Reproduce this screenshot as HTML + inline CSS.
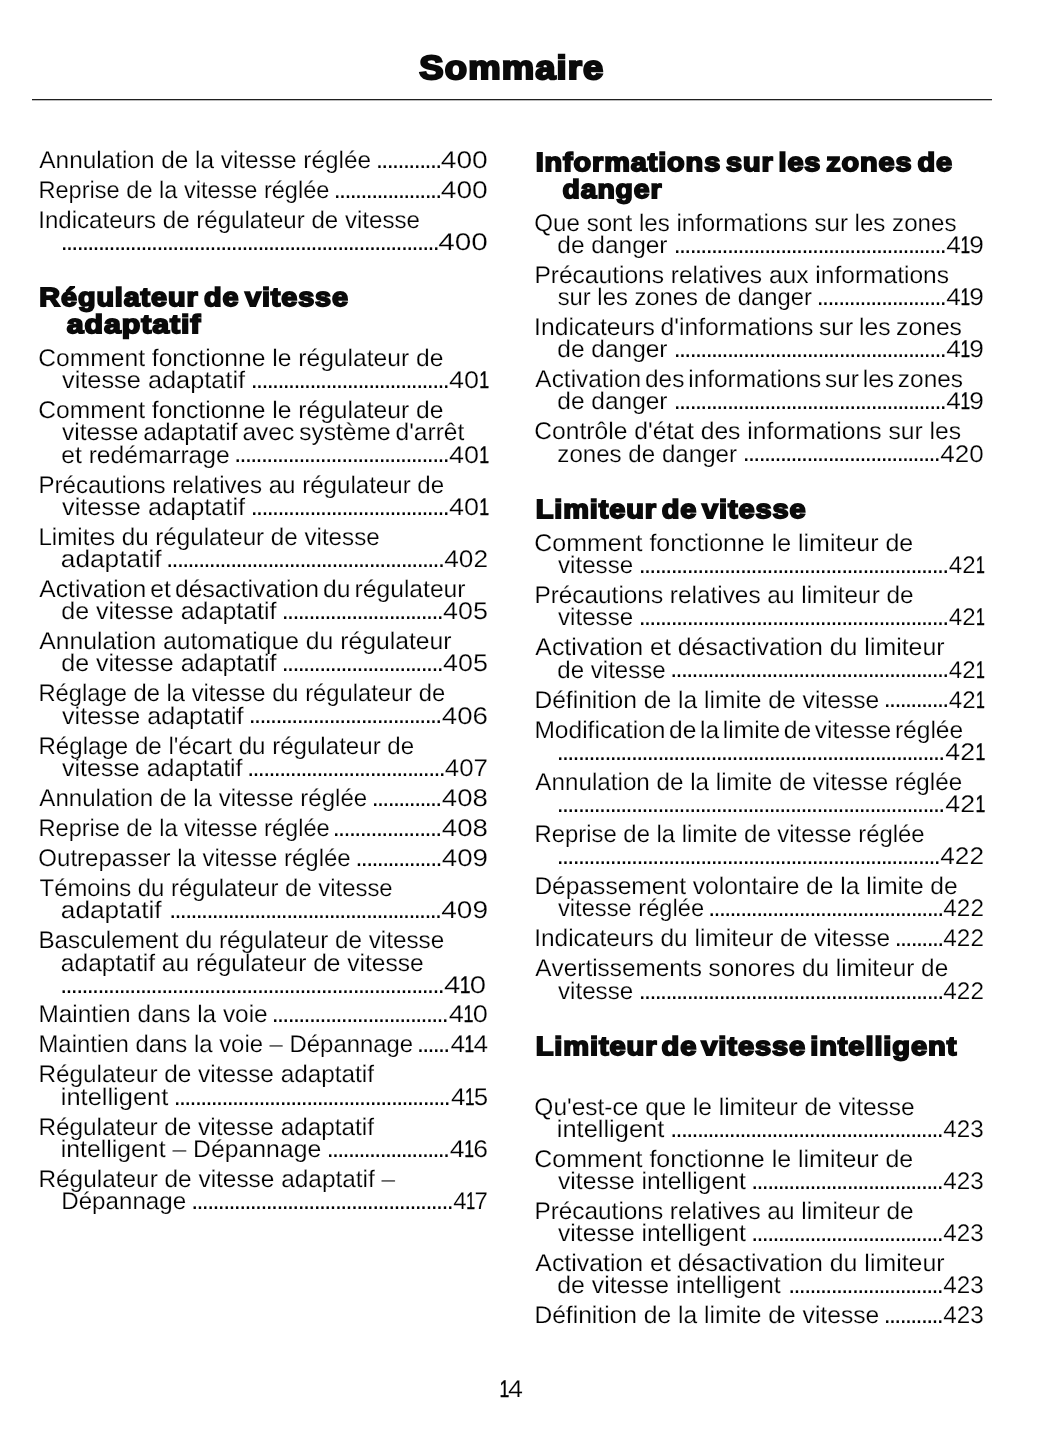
<!DOCTYPE html>
<html lang="fr">
<head>
<meta charset="utf-8">
<title>Sommaire</title>
<style>
html,body{margin:0;padding:0;background:#fff;}
body{width:1055px;height:1448px;position:relative;overflow:hidden;color:#000;font-family:"Liberation Sans",sans-serif;font-kerning:none;text-rendering:geometricPrecision;}
.page{position:absolute;left:0;top:0;width:1055px;height:1448px;overflow:hidden;background:#fff;}
h1,h2,p{margin:0;padding:0;font:inherit;}
span{position:absolute;white-space:pre;transform-origin:0 0;display:block;}
.l,.n,.pg{font-size:24px;line-height:24px;-webkit-text-stroke:0.2px #fff;}
.d{font-size:25px;line-height:25px;}
.h{font-size:26.2px;line-height:26.2px;font-weight:bold;color:#0a0a0a;-webkit-text-stroke:1.8px #0a0a0a;paint-order:stroke fill;letter-spacing:0.8px;word-spacing:-3px;}
.ti{font-size:33.4px;line-height:33.4px;font-weight:bold;color:#0a0a0a;-webkit-text-stroke:2.2px #0a0a0a;paint-order:stroke fill;letter-spacing:1px;}
i{display:inline-block;font-style:normal;width:7.85px;margin-left:-0.05px;transform:scaleX(0.66);transform-origin:0 0;-webkit-text-stroke:0.4px #000;}
.rule{position:absolute;left:31.7px;top:99px;width:960.3px;height:2px;background:linear-gradient(#1f1f1f 0 50%, rgba(31,31,31,.3) 50% 100%);}
</style>
</head>
<body>
<div class="page">
<header><h1><span class="ti" style="left:419px;top:52px;transform:translateX(0.35px) scaleX(1.0922)">Sommaire</span></h1><div class="rule"></div></header>
<section class="left">
<p><span class="l" style="left:39px;top:149px;transform:translateX(0.35px) scaleX(1.0145)">Annulation de la vitesse réglée</span><span class="d" style="letter-spacing:-1.545px;left:375px;top:148px;transform:translateX(0.92px)">............</span><span class="n" style="left:440px;top:149px;transform:translateX(0.73px) scaleX(1.1757)">400</span></p>
<p><span class="l" style="left:38px;top:179px;transform:translateX(0.47px) scaleX(0.9825)">Reprise de la vitesse réglée</span><span class="d" style="letter-spacing:-1.598px;left:333px;top:178px;transform:translateX(0.72px)">....................</span><span class="n" style="left:440px;top:179px;transform:translateX(0.73px) scaleX(1.1757)">400</span></p>
<p><span class="l" style="left:38px;top:209px;transform:translateX(0.18px) scaleX(1.0041)">Indicateurs de régulateur de vitesse</span><span class="d" style="letter-spacing:-1.63px;left:60px;top:230px;transform:translateX(0.72px)">.......................................................................</span><span class="n" style="left:438px;top:231px;transform:translateX(0.19px) scaleX(1.2409)">400</span></p>
<h2><span class="h" style="left:39px;top:284px;transform:translateX(0.36px) scaleX(1.0994)">Régulateur de vitesse</span><span class="h" style="left:66px;top:311px;transform:translateX(0.75px) scaleX(1.1568)">adaptatif</span></h2>
<p><span class="l" style="left:38px;top:347px;transform:translateX(0.25px) scaleX(1.0259)">Comment fonctionne le régulateur de</span><span class="l" style="left:62px;top:369px;transform:translateX(0.01px) scaleX(1.0555)">vitesse adaptatif</span><span class="d" style="letter-spacing:-1.609px;left:250px;top:368px;transform:translateX(0.72px)">.....................................</span><span class="n" style="left:448px;top:369px;transform:translateX(0.97px) scaleX(1.1251)">40<i>1</i></span></p>
<p><span class="l" style="left:38px;top:399px;transform:translateX(0.25px) scaleX(1.0259)">Comment fonctionne le régulateur de</span><span class="l" style="left:62px;top:421px;transform:translateX(0.01px) scaleX(1.0221);word-spacing:-1.8px">vitesse adaptatif avec système d'arrêt</span><span class="l" style="left:61px;top:444px;transform:translateX(0.25px) scaleX(1.0265)">et redémarrage</span><span class="d" style="letter-spacing:-1.597px;left:234px;top:442px;transform:translateX(0.22px)">........................................</span><span class="n" style="left:448px;top:444px;transform:translateX(0.97px) scaleX(1.1251)">40<i>1</i></span></p>
<p><span class="l" style="left:38px;top:474px;transform:translateX(0.42px) scaleX(1.0037)">Précautions relatives au régulateur de</span><span class="l" style="left:62px;top:496px;transform:translateX(0.01px) scaleX(1.0555)">vitesse adaptatif</span><span class="d" style="letter-spacing:-1.609px;left:250px;top:495px;transform:translateX(0.72px)">.....................................</span><span class="n" style="left:448px;top:496px;transform:translateX(0.97px) scaleX(1.1251)">40<i>1</i></span></p>
<p><span class="l" style="left:38px;top:526px;transform:translateX(0.42px) scaleX(1.0071)">Limites du régulateur de vitesse</span><span class="l" style="left:60px;top:548px;transform:translateX(0.77px) scaleX(1.0947)">adaptatif</span><span class="d" style="letter-spacing:-1.618px;left:166px;top:547px;transform:translateX(0.22px)">....................................................</span><span class="n" style="left:444px;top:548px;transform:translateX(0.19px) scaleX(1.0948)">402</span></p>
<p><span class="l" style="left:39px;top:578px;transform:translateX(0.35px) scaleX(1.0264);word-spacing:-2.6px">Activation et désactivation du régulateur</span><span class="l" style="left:61px;top:600px;transform:translateX(0.25px) scaleX(1.0411)">de vitesse adaptatif</span><span class="d" style="letter-spacing:-1.6px;left:281px;top:599px;transform:translateX(0.72px)">..............................</span><span class="n" style="left:442px;top:600px;transform:translateX(0.97px) scaleX(1.1204)">405</span></p>
<p><span class="l" style="left:39px;top:630px;transform:translateX(0.35px) scaleX(1.0296)">Annulation automatique du régulateur</span><span class="l" style="left:61px;top:652px;transform:translateX(0.25px) scaleX(1.0411)">de vitesse adaptatif</span><span class="d" style="letter-spacing:-1.6px;left:281px;top:651px;transform:translateX(0.72px)">..............................</span><span class="n" style="left:442px;top:652px;transform:translateX(0.97px) scaleX(1.1204)">405</span></p>
<p><span class="l" style="left:38px;top:682px;transform:translateX(0.45px) scaleX(0.9897)">Réglage de la vitesse du régulateur de</span><span class="l" style="left:62px;top:705px;transform:translateX(0.01px) scaleX(1.0468)">vitesse adaptatif</span><span class="d" style="letter-spacing:-1.614px;left:248px;top:703px;transform:translateX(0.72px)">....................................</span><span class="n" style="left:441px;top:705px;transform:translateX(0.75px) scaleX(1.1532)">406</span></p>
<p><span class="l" style="left:38px;top:735px;transform:translateX(0.42px) scaleX(1.0042)">Réglage de l'écart du régulateur de</span><span class="l" style="left:62px;top:757px;transform:translateX(0.01px) scaleX(1.041)">vitesse adaptatif</span><span class="d" style="letter-spacing:-1.623px;left:247px;top:756px;transform:translateX(0.22px)">.....................................</span><span class="n" style="left:444px;top:757px;transform:translateX(0.8px) scaleX(1.079)">407</span></p>
<p><span class="l" style="left:39px;top:787px;transform:translateX(0.35px) scaleX(1.0028)">Annulation de la vitesse réglée</span><span class="d" style="letter-spacing:-1.644px;left:371px;top:786px;transform:translateX(0.72px)">.............</span><span class="n" style="left:441px;top:787px;transform:translateX(0.85px) scaleX(1.1502)">408</span></p>
<p><span class="l" style="left:38px;top:817px;transform:translateX(0.47px) scaleX(0.9832)">Reprise de la vitesse réglée</span><span class="d" style="letter-spacing:-1.545px;left:332px;top:816px;transform:translateX(0.72px)">....................</span><span class="n" style="left:441px;top:817px;transform:translateX(0.85px) scaleX(1.1502)">408</span></p>
<p><span class="l" style="left:38px;top:847px;transform:translateX(0.36px) scaleX(1.0005)">Outrepasser la vitesse réglée</span><span class="d" style="letter-spacing:-1.612px;left:355px;top:846px;transform:translateX(0.52px)">................</span><span class="n" style="left:441px;top:847px;transform:translateX(0.75px) scaleX(1.1557)">409</span></p>
<p><span class="l" style="left:39px;top:877px;transform:translateX(0.56px) scaleX(0.995)">Témoins du régulateur de vitesse</span><span class="l" style="left:60px;top:899px;transform:translateX(0.77px) scaleX(1.0947)">adaptatif</span><span class="d" style="letter-spacing:-1.63px;left:169px;top:898px;transform:translateX(0.22px)">...................................................</span><span class="n" style="left:441px;top:899px;transform:translateX(0.24px) scaleX(1.1688)">409</span></p>
<p><span class="l" style="left:38px;top:929px;transform:translateX(0.41px) scaleX(1.0104)">Basculement du régulateur de vitesse</span><span class="l" style="left:60px;top:952px;transform:translateX(0.86px) scaleX(1.0223)">adaptatif au régulateur de vitesse</span><span class="d" style="letter-spacing:-1.629px;left:60px;top:973px;transform:translateX(0.22px)">........................................................................</span><span class="n" style="left:443px;top:974px;transform:translateX(0.91px) scaleX(1.2215)">4<i>1</i>0</span></p>
<p><span class="l" style="left:38px;top:1003px;transform:translateX(0.4px) scaleX(1.0169)">Maintien dans la voie</span><span class="d" style="letter-spacing:-1.63px;left:271px;top:1002px;transform:translateX(0.72px)">.................................</span><span class="n" style="left:448px;top:1003px;transform:translateX(0.76px) scaleX(1.1302)">4<i>1</i>0</span></p>
<p><span class="l" style="left:38px;top:1033px;transform:translateX(0.44px) scaleX(0.9959)">Maintien dans la voie – Dépannage</span><span class="d" style="letter-spacing:-1.684px;left:417px;top:1032px;transform:translateX(0.02px)">......</span><span class="n" style="left:450px;top:1033px;transform:translateX(0.39px) scaleX(1.0919)">4<i>1</i>4</span></p>
<p><span class="l" style="left:38px;top:1063px;transform:translateX(0.4px) scaleX(1.0144)">Régulateur de vitesse adaptatif</span><span class="l" style="left:60px;top:1086px;transform:translateX(0.79px) scaleX(1.0601)">intelligent</span><span class="d" style="letter-spacing:-1.649px;left:173px;top:1085px;transform:translateX(0.72px)">....................................................</span><span class="n" style="left:450px;top:1086px;transform:translateX(1px) scaleX(1.0776)">4<i>1</i>5</span></p>
<p><span class="l" style="left:38px;top:1116px;transform:translateX(0.4px) scaleX(1.0144)">Régulateur de vitesse adaptatif</span><span class="l" style="left:60px;top:1138px;transform:translateX(0.84px) scaleX(1.0324)">intelligent – Dépannage</span><span class="d" style="letter-spacing:-1.655px;left:326px;top:1137px;transform:translateX(0.72px)">.......................</span><span class="n" style="left:449px;top:1138px;transform:translateX(0.78px) scaleX(1.1036)">4<i>1</i>6</span></p>
<p><span class="l" style="left:38px;top:1168px;transform:translateX(0.4px) scaleX(1.0166)">Régulateur de vitesse adaptatif –</span><span class="l" style="left:61px;top:1190px;transform:translateX(0.22px) scaleX(1.0067)">Dépannage</span><span class="d" style="letter-spacing:-1.623px;left:191px;top:1189px;transform:translateX(0.22px)">.................................................</span><span class="n" style="left:453px;top:1190px;transform:translateX(0.35px) scaleX(1.0013)">4<i>1</i>7</span></p>
</section>
<section class="right">
<h2><span class="h" style="left:535px;top:149px;transform:translateX(0.66px) scaleX(1.1025);word-spacing:-3.6px">Informations sur les zones de</span><span class="h" style="left:562px;top:176px;transform:translateX(0.61px) scaleX(1.0825)">danger</span></h2>
<p><span class="l" style="left:534px;top:212px;transform:translateX(0.36px) scaleX(1.0045)">Que sont les informations sur les zones</span><span class="l" style="left:557px;top:234px;transform:translateX(0.27px) scaleX(1.0198)">de danger</span><span class="d" style="letter-spacing:-1.624px;left:673px;top:233px;transform:translateX(0.72px)">...................................................</span><span class="n" style="left:946px;top:234px;transform:translateX(0.29px) scaleX(1.0911)">4<i>1</i>9</span></p>
<p><span class="l" style="left:534px;top:264px;transform:translateX(0.38px) scaleX(1.0224)">Précautions relatives aux informations</span><span class="l" style="left:557px;top:286px;transform:translateX(0.64px) scaleX(0.9929)">sur les zones de danger</span><span class="d" style="letter-spacing:-1.593px;left:816px;top:285px;transform:translateX(0.72px)">........................</span><span class="n" style="left:946px;top:286px;transform:translateX(0.29px) scaleX(1.0911)">4<i>1</i>9</span></p>
<p><span class="l" style="left:534px;top:316px;transform:translateX(0.12px) scaleX(1.0285);word-spacing:-1.2px">Indicateurs d'informations sur les zones</span><span class="l" style="left:557px;top:338px;transform:translateX(0.27px) scaleX(1.0198)">de danger</span><span class="d" style="letter-spacing:-1.624px;left:673px;top:337px;transform:translateX(0.72px)">...................................................</span><span class="n" style="left:946px;top:338px;transform:translateX(0.29px) scaleX(1.0911)">4<i>1</i>9</span></p>
<p><span class="l" style="left:535px;top:368px;transform:translateX(0.35px) scaleX(1.0173);word-spacing:-2.9px">Activation des informations sur les zones</span><span class="l" style="left:557px;top:390px;transform:translateX(0.27px) scaleX(1.0198)">de danger</span><span class="d" style="letter-spacing:-1.624px;left:673px;top:389px;transform:translateX(0.72px)">...................................................</span><span class="n" style="left:946px;top:390px;transform:translateX(0.29px) scaleX(1.0911)">4<i>1</i>9</span></p>
<p><span class="l" style="left:534px;top:420px;transform:translateX(0.25px) scaleX(1.0272)">Contrôle d'état des informations sur les</span><span class="l" style="left:557px;top:443px;transform:translateX(0.32px) scaleX(1.0048)">zones de danger</span><span class="d" style="letter-spacing:-1.637px;left:742px;top:441px;transform:translateX(0.72px)">.....................................</span><span class="n" style="left:940px;top:443px;transform:translateX(0.29px) scaleX(1.0845)">420</span></p>
<h2><span class="h" style="left:535px;top:496px;transform:translateX(0.66px) scaleX(1.1057);word-spacing:-3.8px">Limiteur de vitesse</span></h2>
<p><span class="l" style="left:534px;top:532px;transform:translateX(0.23px) scaleX(1.0407)">Comment fonctionne le limiteur de</span><span class="l" style="left:558px;top:554px;transform:translateX(0.02px) scaleX(1.0061)">vitesse</span><span class="d" style="letter-spacing:-1.619px;left:638px;top:553px;transform:translateX(0.72px)">..........................................................</span><span class="n" style="left:948px;top:554px;transform:translateX(0.85px) scaleX(1.0036)">42<i>1</i></span></p>
<p><span class="l" style="left:534px;top:584px;transform:translateX(0.4px) scaleX(1.0154)">Précautions relatives au limiteur de</span><span class="l" style="left:558px;top:606px;transform:translateX(0.02px) scaleX(1.0061)">vitesse</span><span class="d" style="letter-spacing:-1.619px;left:638px;top:605px;transform:translateX(0.72px)">..........................................................</span><span class="n" style="left:948px;top:606px;transform:translateX(0.85px) scaleX(1.0036)">42<i>1</i></span></p>
<p><span class="l" style="left:535px;top:636px;transform:translateX(0.35px) scaleX(1.0362)">Activation et désactivation du limiteur</span><span class="l" style="left:557px;top:659px;transform:translateX(0.29px) scaleX(1.0029)">de vitesse</span><span class="d" style="letter-spacing:-1.61px;left:670px;top:657px;transform:translateX(0.22px)">....................................................</span><span class="n" style="left:948px;top:659px;transform:translateX(0.85px) scaleX(1.0036)">42<i>1</i></span></p>
<p><span class="l" style="left:534px;top:689px;transform:translateX(0.38px) scaleX(1.0257)">Définition de la limite de vitesse</span><span class="d" style="letter-spacing:-1.618px;left:883px;top:687px;transform:translateX(0.72px)">............</span><span class="n" style="left:948px;top:689px;transform:translateX(0.85px) scaleX(1.0036)">42<i>1</i></span></p>
<p><span class="l" style="left:534px;top:719px;transform:translateX(0.38px) scaleX(1.0235);word-spacing:-3.1px">Modification de la limite de vitesse réglée</span><span class="d" style="letter-spacing:-1.646px;left:556px;top:740px;transform:translateX(0.72px)">.........................................................................</span><span class="n" style="left:945px;top:741px;transform:translateX(0.27px) scaleX(1.1155)">42<i>1</i></span></p>
<p><span class="l" style="left:535px;top:771px;transform:translateX(0.35px) scaleX(1.0092)">Annulation de la limite de vitesse réglée</span><span class="d" style="letter-spacing:-1.646px;left:556px;top:792px;transform:translateX(0.72px)">.........................................................................</span><span class="n" style="left:945px;top:793px;transform:translateX(0.27px) scaleX(1.1155)">42<i>1</i></span></p>
<p><span class="l" style="left:534px;top:823px;transform:translateX(0.44px) scaleX(0.9949)">Reprise de la limite de vitesse réglée</span><span class="d" style="letter-spacing:-1.634px;left:556px;top:844px;transform:translateX(0.72px)">........................................................................</span><span class="n" style="left:940px;top:845px;transform:translateX(0.29px) scaleX(1.0922)">422</span></p>
<p><span class="l" style="left:534px;top:875px;transform:translateX(0.38px) scaleX(1.0236)">Dépassement volontaire de la limite de</span><span class="l" style="left:558px;top:897px;transform:translateX(0.02px) scaleX(0.9868)">vitesse réglée</span><span class="d" style="letter-spacing:-1.618px;left:708px;top:896px;transform:translateX(0.22px)">............................................</span><span class="n" style="left:943px;top:897px;transform:translateX(0.34px) scaleX(1.0134)">422</span></p>
<p><span class="l" style="left:534px;top:927px;transform:translateX(0.14px) scaleX(1.0187)">Indicateurs du limiteur de vitesse</span><span class="d" style="letter-spacing:-1.619px;left:894px;top:926px;transform:translateX(0.72px)">.........</span><span class="n" style="left:943px;top:927px;transform:translateX(0.34px) scaleX(1.0134)">422</span></p>
<p><span class="l" style="left:535px;top:957px;transform:translateX(0.35px) scaleX(1.0147)">Avertissements sonores du limiteur de</span><span class="l" style="left:558px;top:980px;transform:translateX(0.02px) scaleX(1.0061)">vitesse</span><span class="d" style="letter-spacing:-1.614px;left:638px;top:979px;transform:translateX(0.72px)">.........................................................</span><span class="n" style="left:943px;top:980px;transform:translateX(0.34px) scaleX(1.0134)">422</span></p>
<h2><span class="h" style="left:535px;top:1033px;transform:translateX(0.65px) scaleX(1.1101);word-spacing:-4.4px">Limiteur de vitesse intelligent</span></h2>
<p><span class="l" style="left:534px;top:1096px;transform:translateX(0.34px) scaleX(1.0204)">Qu'est-ce que le limiteur de vitesse</span><span class="l" style="left:556px;top:1118px;transform:translateX(0.79px) scaleX(1.0601)">intelligent</span><span class="d" style="letter-spacing:-1.614px;left:670px;top:1117px;transform:translateX(0.22px)">...................................................</span><span class="n" style="left:943px;top:1118px;transform:translateX(0.34px) scaleX(1.0094)">423</span></p>
<p><span class="l" style="left:534px;top:1148px;transform:translateX(0.23px) scaleX(1.0407)">Comment fonctionne le limiteur de</span><span class="l" style="left:558px;top:1170px;transform:translateX(0.01px) scaleX(1.0274)">vitesse intelligent</span><span class="d" style="letter-spacing:-1.643px;left:751px;top:1169px;transform:translateX(0.22px)">....................................</span><span class="n" style="left:943px;top:1170px;transform:translateX(0.34px) scaleX(1.0094)">423</span></p>
<p><span class="l" style="left:534px;top:1200px;transform:translateX(0.4px) scaleX(1.0154)">Précautions relatives au limiteur de</span><span class="l" style="left:558px;top:1222px;transform:translateX(0.01px) scaleX(1.0274)">vitesse intelligent</span><span class="d" style="letter-spacing:-1.643px;left:751px;top:1221px;transform:translateX(0.22px)">....................................</span><span class="n" style="left:943px;top:1222px;transform:translateX(0.34px) scaleX(1.0094)">423</span></p>
<p><span class="l" style="left:535px;top:1252px;transform:translateX(0.35px) scaleX(1.0362)">Activation et désactivation du limiteur</span><span class="l" style="left:557px;top:1274px;transform:translateX(0.25px) scaleX(1.0342)">de vitesse intelligent</span><span class="d" style="letter-spacing:-1.638px;left:788px;top:1273px;transform:translateX(0.22px)">.............................</span><span class="n" style="left:943px;top:1274px;transform:translateX(0.34px) scaleX(1.0094)">423</span></p>
<p><span class="l" style="left:534px;top:1304px;transform:translateX(0.38px) scaleX(1.0257)">Définition de la limite de vitesse</span><span class="d" style="letter-spacing:-1.634px;left:883px;top:1303px;transform:translateX(0.72px)">...........</span><span class="n" style="left:943px;top:1304px;transform:translateX(0.34px) scaleX(1.0094)">423</span></p>
</section>
<footer><span class="pg" style="left:499px;top:1378px;transform:translateX(0.39px) scaleX(1.1156)"><i>1</i>4</span></footer>
</div>
</body>
</html>
